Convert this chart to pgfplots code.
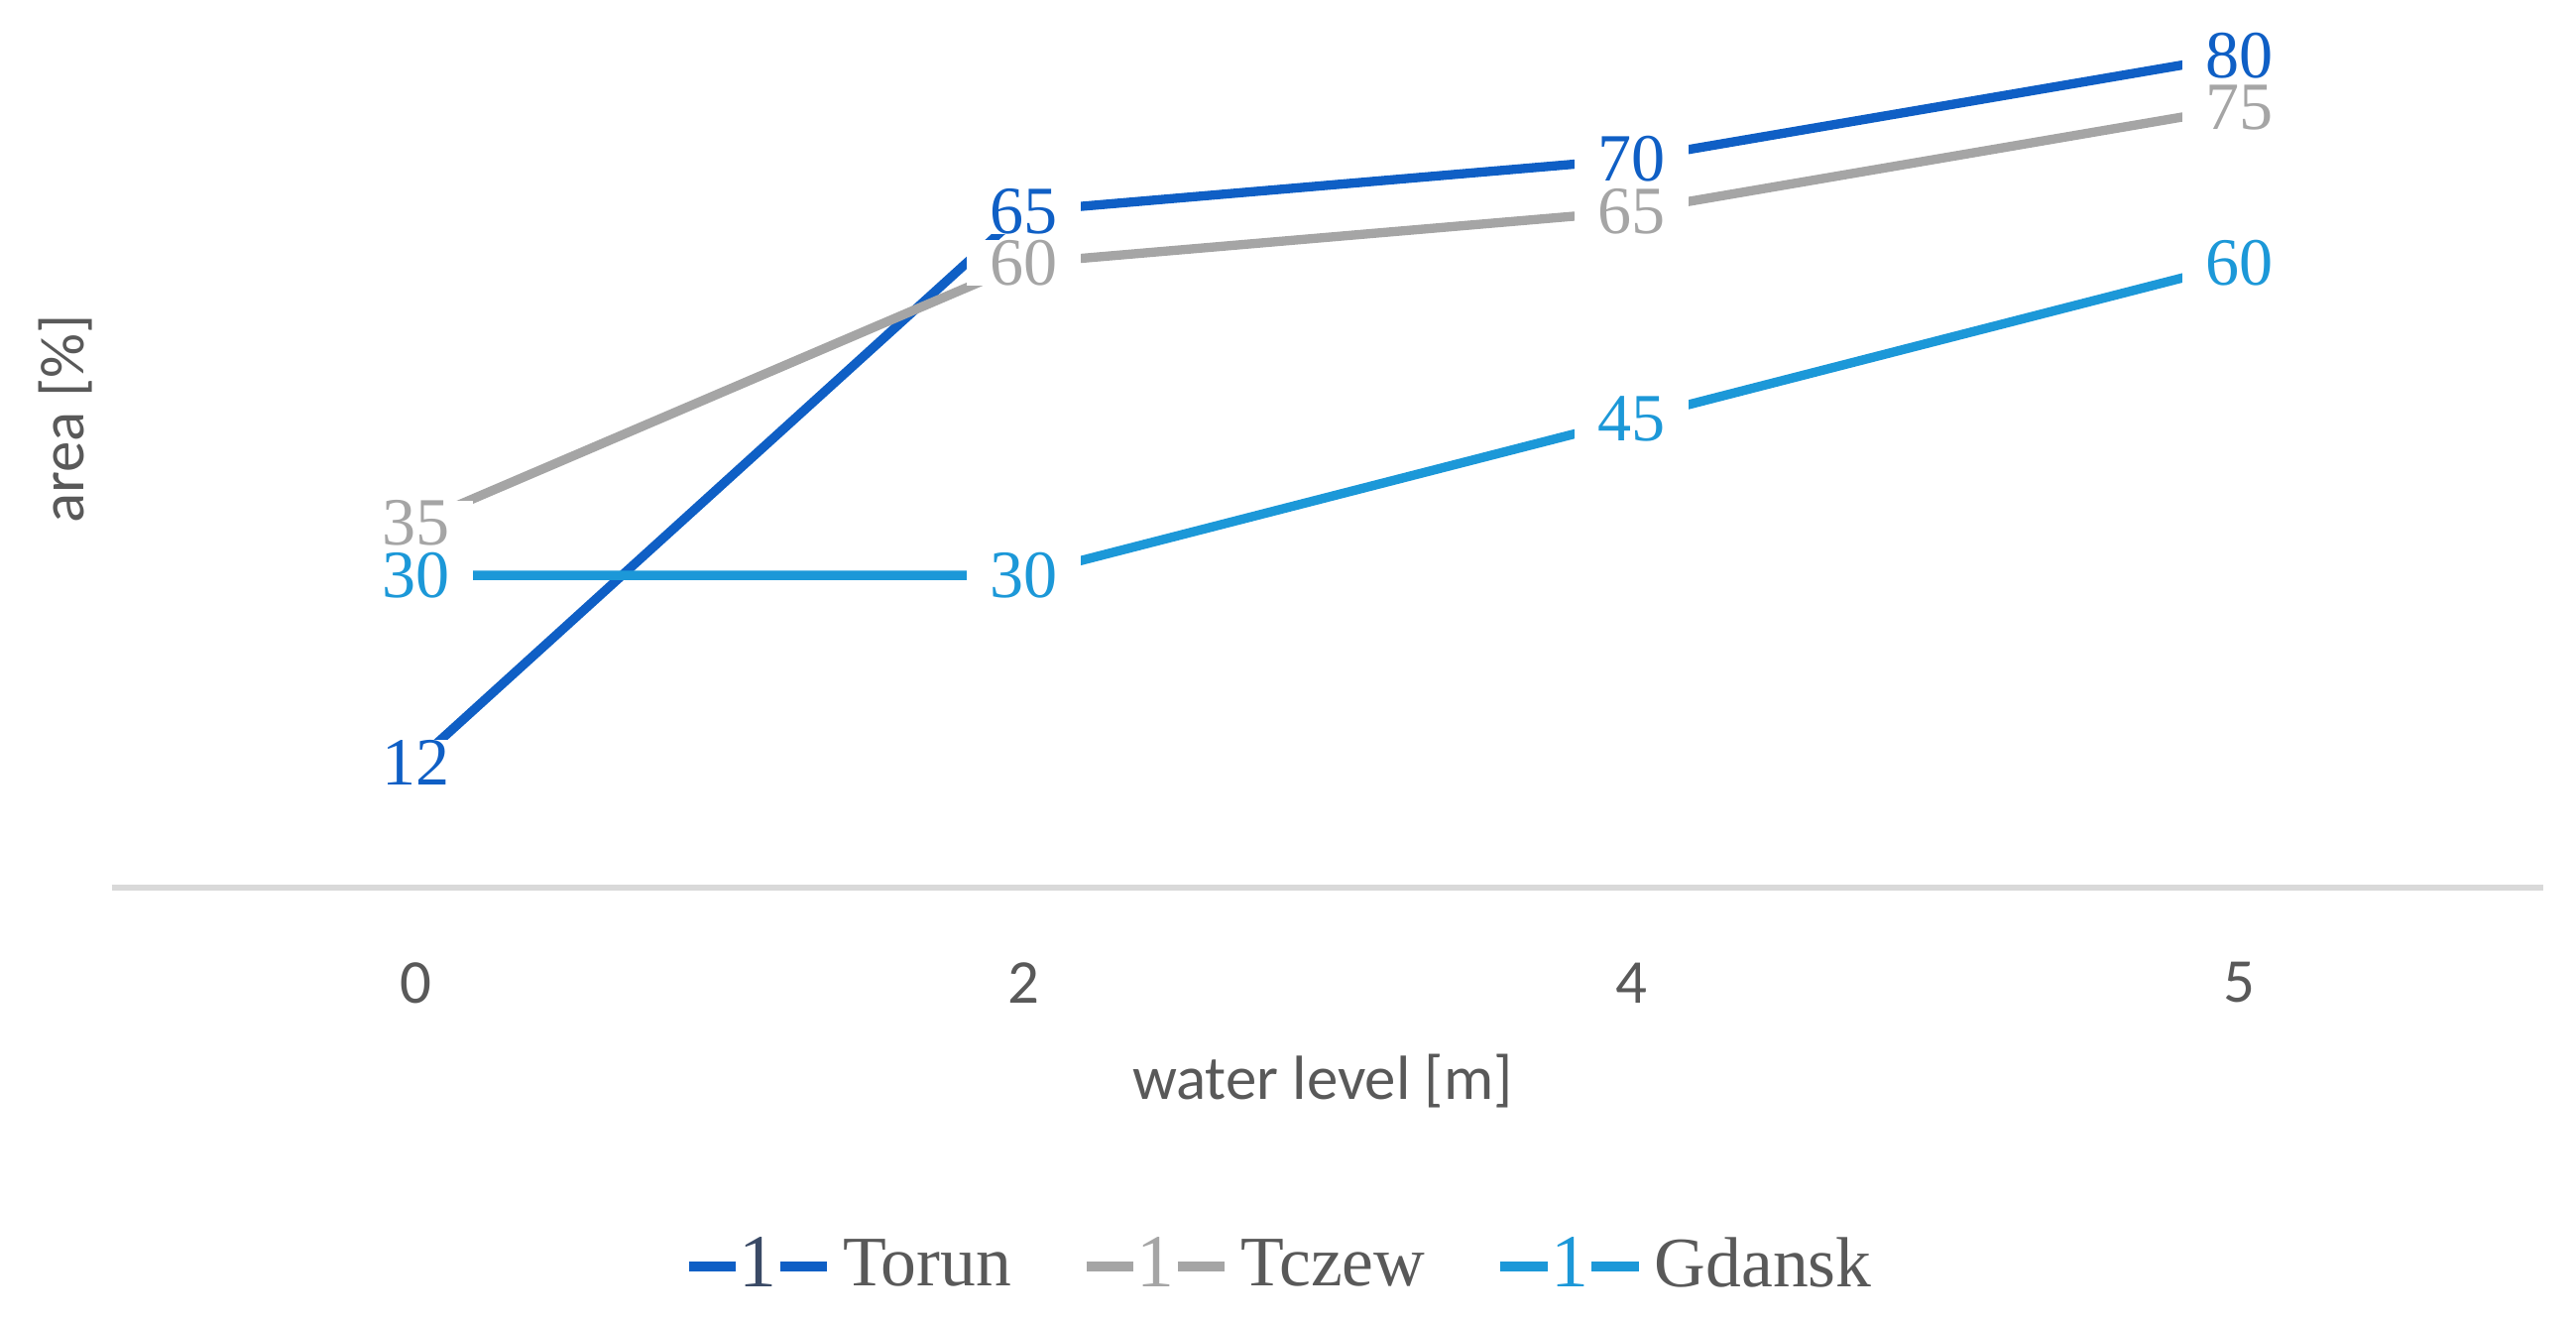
\documentclass[border=0pt]{standalone}
\usepackage{pgfplots}
\pgfplotsset{compat=1.18}
\usepackage{fontspec}
\setmainfont{Liberation Serif}
\newfontfamily\calibri{Carlito}
\definecolor{cTorun}{HTML}{0F5FC5}
\definecolor{cTczew}{HTML}{A5A5A5}
\definecolor{cGdansk}{HTML}{1C98D8}
\definecolor{cOne}{HTML}{3A4A66}
\definecolor{txt}{HTML}{595959}
\definecolor{axln}{HTML}{D9D9D9}
\begin{document}
\begin{tikzpicture}[x=1cm,y=1cm]
\useasboundingbox (0,0) rectangle (15.68,8.06);
\begin{axis}[
  at={(0.68cm,2.66cm)}, anchor=south west,
  scale only axis, width=14.80cm, height=5.38cm,
  xmin=-0.5, xmax=3.5, ymin=0, ymax=85,
  axis x line*=bottom, axis y line=none,
  x axis line style={-, draw=axln, line width=1pt},
  xtick={0,1,2,3}, xticklabels={0,2,4,5},
  major tick length=0pt,
  xticklabel style={anchor=center, yshift=-0.58cm, text=txt, font=\calibri\fontsize{10.8}{13}\selectfont},
  /pgf/number format/assume math mode=true,
  clip=false,
  every axis plot/.append style={line width=1.6pt, mark=none},
  nodes near coords={\pgfmathprintnumber[assume math mode=true]{\pgfplotspointmeta}},
  every node near coord/.append style={anchor=center, fill=white, inner xsep=4pt, inner ysep=0pt, font=\fontsize{11.7}{13}\selectfont},
  legend columns=3,
  legend style={at={(rel axis cs:0.482,-0.429)}, anchor=center, draw=none, fill=none,
    font=\fontsize{12.3}{14}\selectfont, text=txt,
    /tikz/every even column/.append style={column sep=0.36cm}},
]
\addplot[cTorun, every node near coord/.append style={text=cTorun},
  legend image code/.code={\draw[cTorun, line width=1.6pt] (0cm,0cm) -- (0.84cm,0cm);
    \node[fill=white, inner sep=0.6pt, text=cOne, font=\fontsize{13}{14}\selectfont] at (0.42cm,0cm) {1};}]
  coordinates {(0,12) (1,65) (2,70) (3,80)};
\addlegendentry{Torun}
\addplot[cTczew, every node near coord/.append style={text=cTczew},
  legend image code/.code={\draw[cTczew, line width=1.6pt] (0cm,0cm) -- (0.84cm,0cm);
    \node[fill=white, inner sep=0.6pt, text=cTczew, font=\fontsize{13}{14}\selectfont] at (0.42cm,0cm) {1};}]
  coordinates {(0,35) (1,60) (2,65) (3,75)};
\addlegendentry{Tczew}
\addplot[cGdansk, every node near coord/.append style={text=cGdansk},
  legend image code/.code={\draw[cGdansk, line width=1.6pt] (0cm,0cm) -- (0.84cm,0cm);
    \node[fill=white, inner sep=0.6pt, text=cGdansk, font=\fontsize{13}{14}\selectfont] at (0.42cm,0cm) {1};}]
  coordinates {(0,30) (1,30) (2,45) (3,60)};
\addlegendentry{Gdansk}
\end{axis}
\node[text=txt, font=\calibri\fontsize{10.8}{13}\selectfont] at (8.05,1.48) {water level [m]};
\node[text=txt, rotate=90, font=\calibri\fontsize{10.8}{13}\selectfont] at (0.40,5.51) {area [\%]};
\end{tikzpicture}
\end{document}
